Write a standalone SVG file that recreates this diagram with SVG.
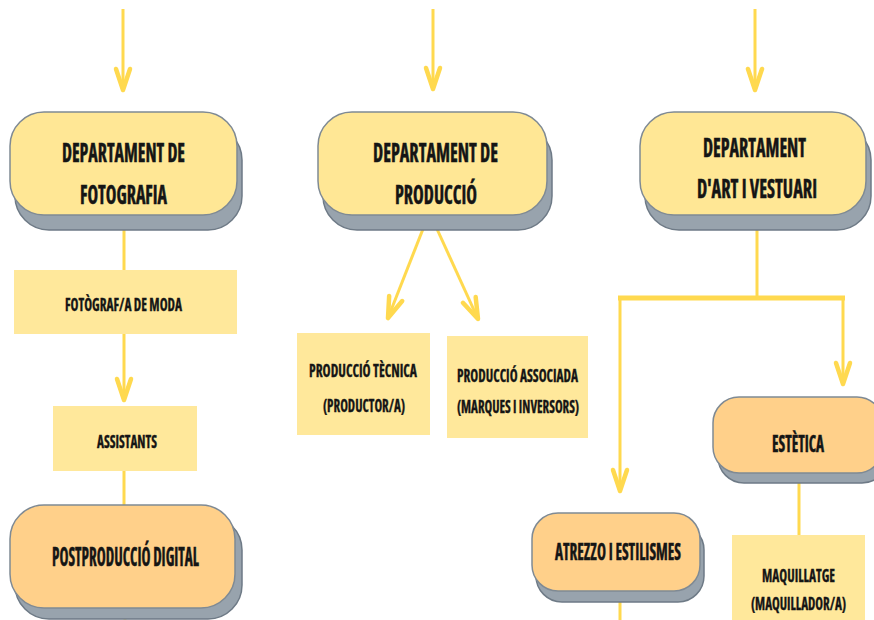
<svg xmlns="http://www.w3.org/2000/svg" width="874" height="620" viewBox="0 0 874 620">
  <style>
    .lbl { font-family: "Open Sans", "Liberation Sans", sans-serif; font-weight: 700; font-stretch: condensed; fill: #151515; stroke: #151515; stroke-width: 0.5; text-anchor: middle; }
    .big { font-size: 26px; }
    .mid { font-size: 23px; }
    .sm { font-size: 18px; stroke-width: 0.35; }
    .shadow { fill: #98A3AD; stroke: #6E7A86; stroke-width: 1.5; }
    .pill-y { fill: #FFE795; stroke: #7F8A94; stroke-width: 1.5; }
    .pill-o { fill: #FFD08A; stroke: #7F8A94; stroke-width: 1.5; }
    .box { fill: #FFE89B; }
    .wire { fill: none; stroke: #FFD94F; stroke-width: 3; }
    .thick { stroke-width: 5; }
  </style>
  <defs>
    <marker id="ah" viewBox="-24 -10 28 20" markerWidth="28" markerHeight="20" refX="0" refY="0" orient="auto" markerUnits="userSpaceOnUse">
      <path d="M-21,-7 L0,0 L-21,7" fill="none" stroke="#FFD94F" stroke-width="4.5" stroke-linecap="round" stroke-linejoin="round"/>
    </marker>
  </defs>

  <rect width="874" height="620" fill="#FFFFFF"/>

  <!-- connectors -->
  <g id="connectors">
    <line class="wire" x1="123" y1="9" x2="123" y2="90" marker-end="url(#ah)"/>
    <line class="wire" x1="433" y1="9" x2="433" y2="89" marker-end="url(#ah)"/>
    <line class="wire" x1="755" y1="9" x2="755" y2="90" marker-end="url(#ah)"/>

    <line class="wire" x1="124" y1="228" x2="124" y2="270"/>
    <line class="wire" x1="124" y1="334" x2="124" y2="400" marker-end="url(#ah)"/>
    <line class="wire" x1="124" y1="471" x2="124" y2="506"/>
    <line class="wire" x1="125" y1="608" x2="125" y2="620" opacity="0.5"/>

    <line class="wire" x1="423" y1="229" x2="388" y2="318" marker-end="url(#ah)"/>
    <line class="wire" x1="437" y1="229" x2="478" y2="319" marker-end="url(#ah)"/>

    <line class="wire" x1="757" y1="228" x2="757" y2="298"/>
    <line class="wire thick" x1="618" y1="298" x2="845" y2="298"/>
    <line class="wire" x1="843" y1="298" x2="843" y2="384" marker-end="url(#ah)"/>
    <line class="wire" x1="620" y1="298" x2="620" y2="491" marker-end="url(#ah)"/>
    <line class="wire" x1="799" y1="482" x2="799" y2="536"/>
    <line class="wire" x1="620" y1="600" x2="620" y2="620"/>
  </g>

  <!-- department nodes -->
  <g id="dept-fotografia">
    <rect class="shadow" x="15" y="126" width="227" height="104" rx="34"/>
    <rect class="pill-y" x="10" y="112" width="227" height="103" rx="34"/>
    <text class="lbl big" x="123.5" y="162" textLength="123" lengthAdjust="spacingAndGlyphs">DEPARTAMENT DE</text>
    <text class="lbl big" x="123.5" y="204" textLength="87" lengthAdjust="spacingAndGlyphs">FOTOGRAFIA</text>
  </g>

  <g id="dept-produccio">
    <rect class="shadow" x="323" y="126" width="229" height="104" rx="34"/>
    <rect class="pill-y" x="318" y="112" width="229" height="103" rx="34"/>
    <text class="lbl big" x="435.5" y="162" textLength="125" lengthAdjust="spacingAndGlyphs">DEPARTAMENT DE</text>
    <text class="lbl big" x="436" y="204" textLength="82" lengthAdjust="spacingAndGlyphs">PRODUCCIÓ</text>
  </g>

  <g id="dept-art">
    <rect class="shadow" x="645" y="126" width="226" height="104" rx="34"/>
    <rect class="pill-y" x="640" y="112" width="226" height="103" rx="34"/>
    <text class="lbl big" x="754.5" y="157" textLength="103" lengthAdjust="spacingAndGlyphs">DEPARTAMENT</text>
    <text class="lbl big" x="757" y="198" textLength="120" lengthAdjust="spacingAndGlyphs">D'ART I VESTUARI</text>
  </g>

  <!-- photography branch -->
  <g id="fotograf">
    <rect class="box" x="14" y="270" width="223" height="64"/>
    <text class="lbl sm" x="123.5" y="311" textLength="117" lengthAdjust="spacingAndGlyphs">FOTÒGRAF/A DE MODA</text>
  </g>

  <g id="assistants">
    <rect class="box" x="53" y="406" width="144" height="65"/>
    <text class="lbl sm" x="127" y="448" textLength="60" lengthAdjust="spacingAndGlyphs">ASSISTANTS</text>
  </g>

  <g id="postproduccio">
    <rect class="shadow" x="15" y="516" width="227" height="103" rx="34"/>
    <rect class="pill-o" x="10" y="505" width="225" height="103" rx="34"/>
    <text class="lbl big" x="125.5" y="566" textLength="147" lengthAdjust="spacingAndGlyphs">POSTPRODUCCIÓ DIGITAL</text>
  </g>

  <!-- production branch -->
  <g id="produccio-tecnica">
    <rect class="box" x="297" y="333" width="133" height="102"/>
    <text class="lbl sm" x="363" y="377" textLength="108" lengthAdjust="spacingAndGlyphs">PRODUCCIÓ TÈCNICA</text>
    <text class="lbl sm" x="364" y="412" textLength="82" lengthAdjust="spacingAndGlyphs">(PRODUCTOR/A)</text>
  </g>

  <g id="produccio-associada">
    <rect class="box" x="447" y="336" width="141" height="102"/>
    <text class="lbl sm" x="517.5" y="382" textLength="121" lengthAdjust="spacingAndGlyphs">PRODUCCIÓ ASSOCIADA</text>
    <text class="lbl sm" x="518" y="413" textLength="122" lengthAdjust="spacingAndGlyphs">(MARQUES I INVERSORS)</text>
  </g>

  <!-- art and wardrobe branch -->
  <g id="estetica">
    <rect class="shadow" x="718" y="407" width="170" height="76" rx="26"/>
    <rect class="pill-o" x="713" y="397" width="170" height="76" rx="26"/>
    <text class="lbl mid" x="798" y="452" textLength="52" lengthAdjust="spacingAndGlyphs">ESTÈTICA</text>
  </g>

  <g id="maquillatge">
    <rect class="box" x="732" y="535" width="133" height="90"/>
    <text class="lbl sm" x="798.5" y="582" textLength="73" lengthAdjust="spacingAndGlyphs">MAQUILLATGE</text>
    <text class="lbl sm" x="798.5" y="610" textLength="95" lengthAdjust="spacingAndGlyphs">(MAQUILLADOR/A)</text>
  </g>

  <g id="atrezzo">
    <rect class="shadow" x="536" y="524" width="168" height="78" rx="26"/>
    <rect class="pill-o" x="532" y="513" width="168" height="78" rx="26"/>
    <text class="lbl mid" x="618" y="560" textLength="126" lengthAdjust="spacingAndGlyphs">ATREZZO I ESTILISMES</text>
  </g>
</svg>
